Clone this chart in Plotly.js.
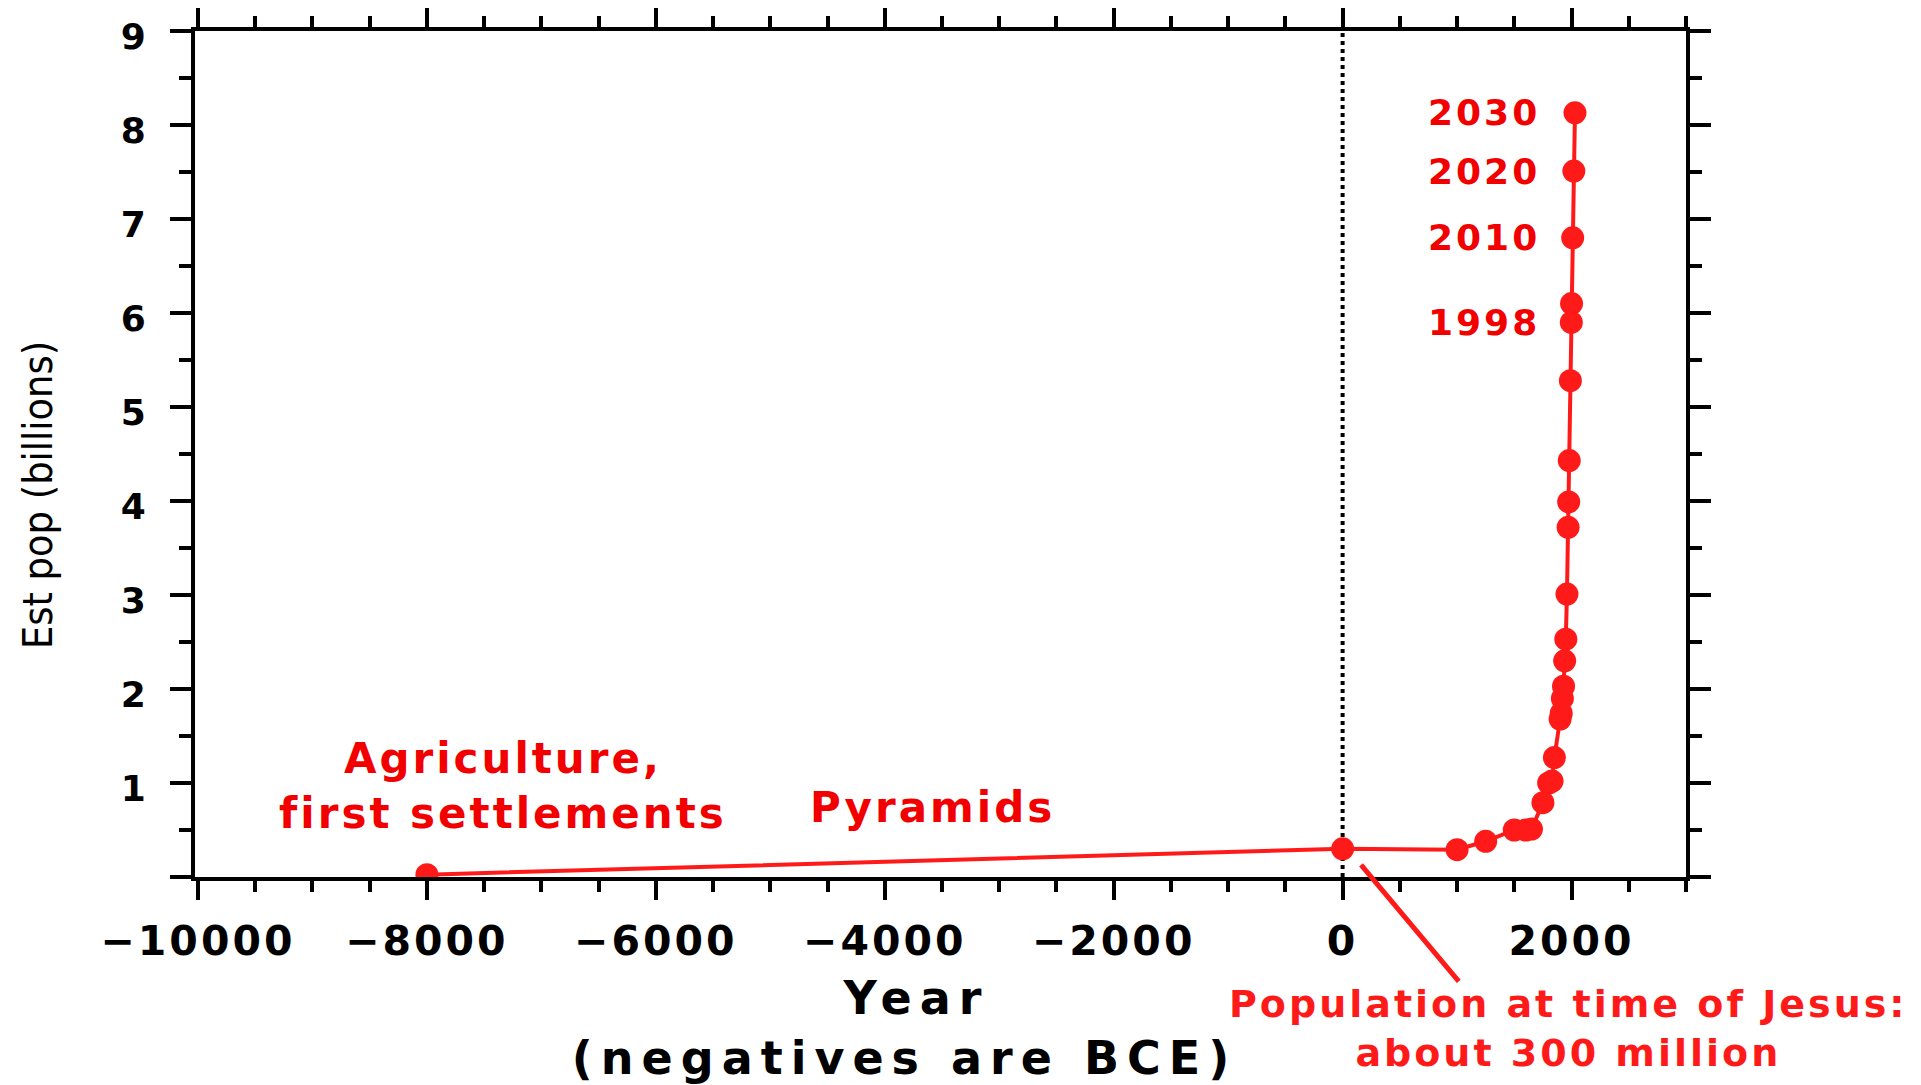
<!DOCTYPE html>
<html>
<head>
<meta charset="utf-8">
<script src="https://cdn.plot.ly/plotly-3.0.1.min.js"></script>
<style>
  html, body { margin: 0; padding: 0; background: #ffffff; }
  #chart { width: 1921px; height: 1085px; }
  .xtick text { letter-spacing: 3px; }
  .xtitle { letter-spacing: 8px; }
  .annotation-text { letter-spacing: 3px; }
</style>
</head>
<body>
<div id="chart"></div>
<script>
// ---- data ----
const years = [-8000, 0, 1000, 1250, 1500, 1600, 1650, 1750, 1800, 1830, 1850, 1900, 1910, 1920, 1930, 1940, 1950, 1960, 1970, 1975, 1980, 1990, 1998, 2000, 2010, 2020, 2030];
const popBillions = [0.025, 0.30, 0.29, 0.38, 0.50, 0.50, 0.51, 0.79, 1.00, 1.02, 1.27, 1.68, 1.74, 1.90, 2.03, 2.30, 2.53, 3.01, 3.72, 3.99, 4.43, 5.28, 5.90, 6.10, 6.80, 7.51, 8.13];

const xTickVals = [-10000, -8000, -6000, -4000, -2000, 0, 2000];
const xTickText = ['\u221210000', '\u22128000', '\u22126000', '\u22124000', '\u22122000', '0', '2000'];
const yTickVals = [0, 1, 2, 3, 4, 5, 6, 7, 8, 9];
const yTickText = ['', '1', '2', '3', '4', '5', '6', '7', '8', '9'];

const labelledYears = [2030, 2020, 2010, 1998];
const labelledText = ['2030', '2020', '2010', '1998'];

// non-breaking spaces (closed by a zero-width space so they are kept) only nudge the titles off-centre
const NB = '\u00a0';
const ZW = '\u200b';
const xTitle = 'Year' + NB.repeat(2) + '<br>(negatives are BCE)' + NB.repeat(3) + ZW;
const yTitle = 'Est pop (billions)' + NB.repeat(7) + ZW;
const agriText = 'Agriculture,<br>first settlements';
const pyramidsText = 'Pyramids';
const jesusText = 'Population at time of Jesus:<br>about 300 million';

// ---- styling ----
const RED = '#ff1a1a';
const TEXTRED = '#f20000';
const BOLD = 'DejaVu Sans, sans-serif';

const trace = {
  x: years,
  y: popBillions,
  type: 'scatter',
  mode: 'lines+markers',
  line: { color: RED, width: 4 },
  marker: { color: RED, size: 23, symbol: 'circle' },
  hoverinfo: 'x+y',
  showlegend: false
};

const annotations = [];
labelledYears.forEach((yr, i) => {
  annotations.push({
    x: 1742, y: popBillions[years.indexOf(yr)], xref: 'x', yref: 'y',
    text: labelledText[i], showarrow: false, xanchor: 'right', yanchor: 'middle',
    font: { family: BOLD, size: 36, color: TEXTRED, weight: 'bold' }
  });
});
annotations.push({
  x: -7331, y: 0.963, xref: 'x', yref: 'y', text: agriText, showarrow: false,
  xanchor: 'center', yanchor: 'middle', align: 'center',
  font: { family: BOLD, size: 42, color: TEXTRED, weight: 'bold' }
});
annotations.push({
  x: -3587, y: 0.739, xref: 'x', yref: 'y', text: pyramidsText, showarrow: false,
  xanchor: 'center', yanchor: 'middle',
  font: { family: BOLD, size: 42, color: TEXTRED, weight: 'bold' }
});
annotations.push({
  x: 1974, y: -0.1785, xref: 'x', yref: 'paper', text: jesusText, showarrow: false,
  xanchor: 'center', yanchor: 'middle', align: 'center',
  font: { family: BOLD, size: 38, color: RED, weight: 'bold' }
});
annotations.push({
  x: 161, y: 0.128, xref: 'x', yref: 'y', text: '', showarrow: true,
  ax: 99, ay: 118, arrowhead: 0, arrowwidth: 5, arrowcolor: RED, standoff: 0, startstandoff: 0
});

const layout = {
  width: 1921, height: 1085,
  margin: { l: 195, r: 235, t: 31, b: 208 },
  paper_bgcolor: '#ffffff', plot_bgcolor: '#ffffff',
  showlegend: false,
  xaxis: {
    range: [-10026, 3000],
    tickmode: 'array', tickvals: xTickVals, ticktext: xTickText, tickangle: 0,
    ticks: 'outside', ticklen: 19, tickwidth: 4, tickcolor: '#000',
    ticklabelstandoff: 6,
    minor: { tickmode: 'linear', tick0: 0, dtick: 500, ticks: 'outside', ticklen: 11, tickwidth: 4, tickcolor: '#000' },
    showline: true, linewidth: 4, linecolor: '#000', mirror: 'allticks',
    showgrid: false, zeroline: false,
    tickfont: { family: BOLD, size: 41, color: '#000', weight: 'bold' },
    title: { text: xTitle, standoff: 28, font: { family: BOLD, size: 46, color: '#000', weight: 'bold' } }
  },
  yaxis: {
    range: [0, 9],
    tickmode: 'array', tickvals: yTickVals, ticktext: yTickText,
    ticks: 'outside', ticklen: 21, tickwidth: 4, tickcolor: '#000',
    ticklabelstandoff: 17, ticklabelshift: 5,
    minor: { tickmode: 'linear', tick0: 0, dtick: 0.5, ticks: 'outside', ticklen: 12, tickwidth: 4, tickcolor: '#000' },
    showline: true, linewidth: 4, linecolor: '#000', mirror: 'allticks',
    showgrid: false, zeroline: false,
    tickfont: { family: BOLD, size: 36, color: '#000', weight: 'bold' },
    title: { text: yTitle, standoff: 56, font: { family: 'DejaVu Sans Condensed, sans-serif', size: 41, color: '#000' } }
  },
  shapes: [{
    type: 'line', xref: 'x', yref: 'paper', x0: 0, x1: 0, y0: 0, y1: 1,
    layer: 'below', line: { color: '#000', width: 4, dash: '4px,4px' }
  }],
  annotations: annotations
};

Plotly.newPlot('chart', [trace], layout, { displayModeBar: false, staticPlot: true });
</script>
</body>
</html>
